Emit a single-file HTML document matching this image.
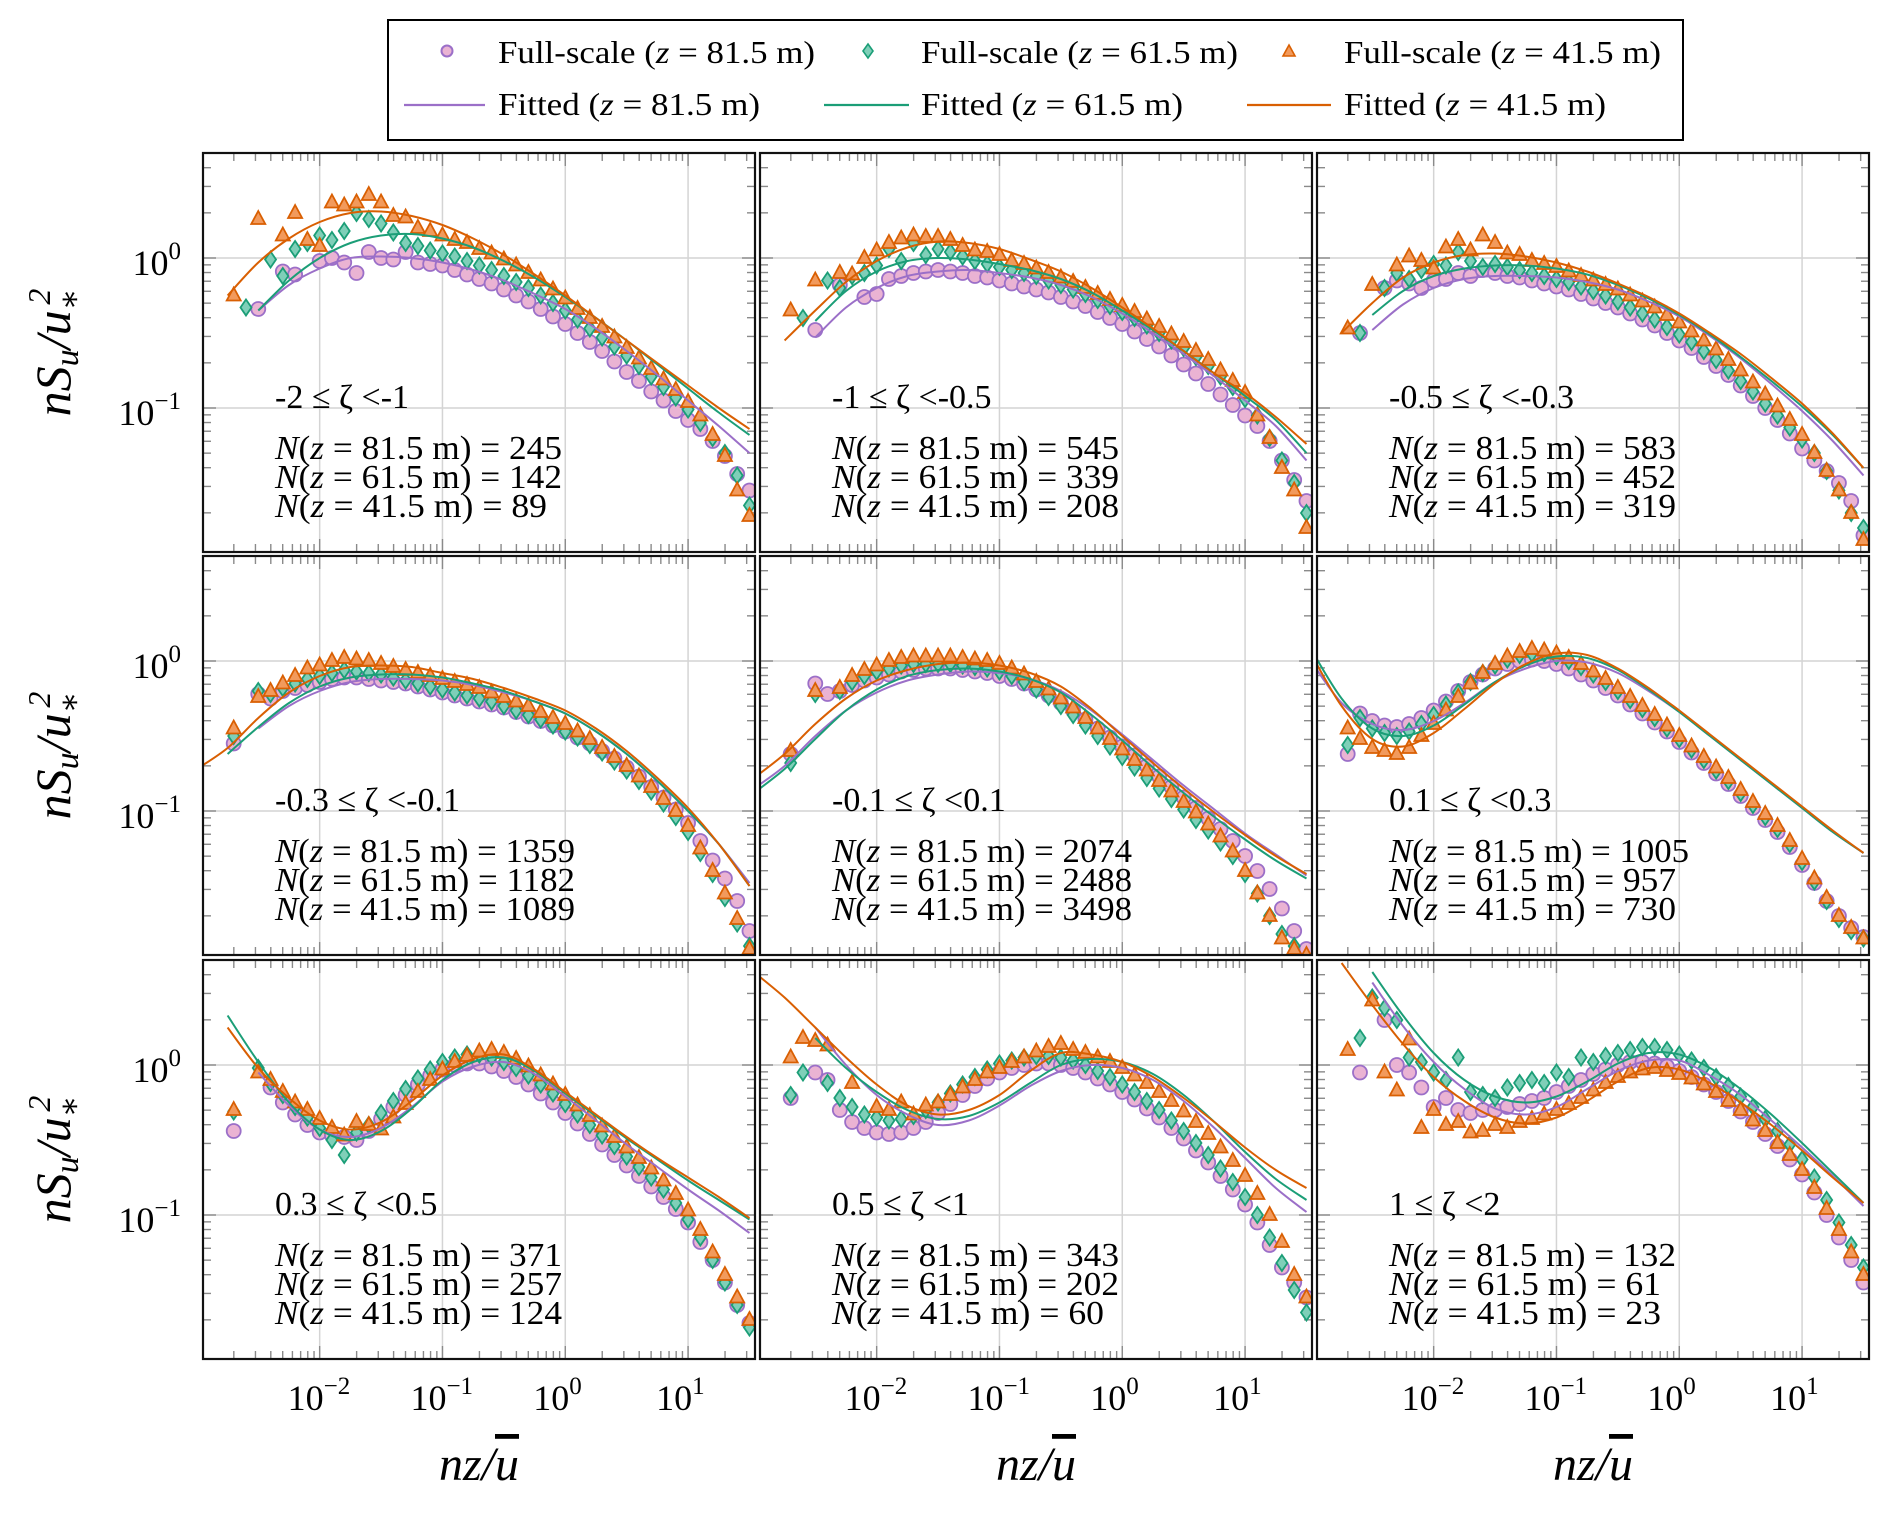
<!DOCTYPE html>
<html><head><meta charset="utf-8"><style>
html,body{margin:0;padding:0;background:#fff;}
svg{display:block;}
text{font-family:"Liberation Serif","DejaVu Serif",serif;fill:#000;}
</style></head><body>
<svg id="chart" width="1892" height="1513" viewBox="0 0 1892 1513" xmlns="http://www.w3.org/2000/svg">
<g id="legend">
<rect x="388" y="20" width="1295" height="120" fill="#fff" stroke="#000" stroke-width="2"/>
<circle cx="447" cy="51" r="5.5" fill="#eab3d3" stroke="#9b6fc8" stroke-width="2"/>
<text x="498" y="63" font-size="32" textLength="317" lengthAdjust="spacingAndGlyphs">Full-scale (<tspan font-style="italic">z</tspan> = 81.5 m)</text>
<path d="M868,44 L873,51 L868,58 L863,51 Z" fill="#7fcfb8" stroke="#1b9e77" stroke-width="1.6"/>
<text x="921" y="63" font-size="32" textLength="317" lengthAdjust="spacingAndGlyphs">Full-scale (<tspan font-style="italic">z</tspan> = 61.5 m)</text>
<path d="M1289,45 L1295,56 L1283,56 Z" fill="#f29a5c" stroke="#d95f02" stroke-width="1.6"/>
<text x="1344" y="63" font-size="32" textLength="317" lengthAdjust="spacingAndGlyphs">Full-scale (<tspan font-style="italic">z</tspan> = 41.5 m)</text>
<line x1="404" y1="105" x2="485" y2="105" stroke="#9b6fc8" stroke-width="2.2"/>
<text x="498" y="115" font-size="32" textLength="262" lengthAdjust="spacingAndGlyphs">Fitted (<tspan font-style="italic">z</tspan> = 81.5 m)</text>
<line x1="824" y1="105" x2="909" y2="105" stroke="#1b9e77" stroke-width="2.2"/>
<text x="921" y="115" font-size="32" textLength="262" lengthAdjust="spacingAndGlyphs">Fitted (<tspan font-style="italic">z</tspan> = 61.5 m)</text>
<line x1="1247" y1="105" x2="1331" y2="105" stroke="#d95f02" stroke-width="2.2"/>
<text x="1344" y="115" font-size="32" textLength="262" lengthAdjust="spacingAndGlyphs">Fitted (<tspan font-style="italic">z</tspan> = 41.5 m)</text>
</g>
<g id="panels"></g>
</svg>
<script>
// x categories (log10 of nz/u)
const fitX = [-3.0,-2.75,-2.5,-2.25,-2,-1.75,-1.5,-1.25,-1,-0.75,-0.5,-0.25,0,0.25,0.5,0.75,1,1.25,1.5];
const markX = [-2.7,-2.6,-2.5,-2.4,-2.3,-2.2,-2.1,-2.0,-1.9,-1.8,-1.7,-1.6,-1.5,-1.4,-1.3,-1.2,-1.1,-1.0,-0.9,-0.8,-0.7,-0.6,-0.5,-0.4,-0.3,-0.2,-0.1,0,0.1,0.2,0.3,0.4,0.5,0.6,0.7,0.8,0.9,1.0,1.1,1.2,1.3,1.4,1.5];
const xTickLabels = ["−2","−1","0","1"];
const xTickValues = [-2,-1,0,1];
const yTickLabels = ["0","−1"];
const yTickValues = [0,-1];
const zetaLabels = ["-2 ≤ ζ <-1","-1 ≤ ζ <-0.5","-0.5 ≤ ζ <-0.3","-0.3 ≤ ζ <-0.1","-0.1 ≤ ζ <0.1","0.1 ≤ ζ <0.3","0.3 ≤ ζ <0.5","0.5 ≤ ζ <1","1 ≤ ζ <2"];
const count81 = [245,545,583,1359,2074,1005,371,343,132];
const count61 = [142,339,452,1182,2488,957,257,202,61];
const count41 = [89,208,319,1089,3498,730,124,60,23];

// Panel 1
const fit41_p1 = [null,-0.25,-0.03,0.13,0.24,0.30,0.31,0.28,0.22,0.13,0.02,-0.11,-0.25,-0.40,-0.55,-0.70,-0.85,-1.00,-1.14];
const fit61_p1 = [null,null,-0.35,-0.15,0.00,0.10,0.15,0.16,0.13,0.07,-0.02,-0.13,-0.26,-0.40,-0.55,-0.71,-0.87,-1.03,-1.18];
const fit81_p1 = [null,null,-0.35,-0.18,-0.07,0.00,0.01,0.00,-0.03,-0.08,-0.15,-0.24,-0.34,-0.47,-0.62,-0.78,-0.95,-1.12,-1.30];
const pts41_p1 = [-0.25,null,0.26,null,0.15,0.30,0.12,0.08,0.37,0.35, 0.37,0.42,0.37,0.28,0.27,0.20,0.18,0.15,0.12,0.10, 0.06,0.03,-0.01,-0.05,-0.10,-0.15,-0.21,-0.27,-0.34,-0.40, -0.46,-0.53,-0.60,-0.67,-0.74,-0.81,-0.88,-0.96,-1.05,-1.18, -1.32,-1.55,-1.72];
const pts61_p1 = [null,-0.33,null,-0.01,-0.12,0.06,0.10,0.15,0.12,0.18, 0.30,0.26,0.23,0.17,0.10,0.08,0.05,0.03,0.01,-0.02, -0.05,-0.08,-0.12,-0.16,-0.20,-0.25,-0.30,-0.35,-0.41,-0.47, -0.53,-0.59,-0.65,-0.72,-0.79,-0.86,-0.93,-1.01,-1.10,-1.20, -1.30,-1.45,-1.65];
const pts81_p1 = [null,null,-0.34,null,-0.09,-0.11,null,-0.02,0.00,-0.03, -0.10,0.04,0.00,-0.01,0.04,-0.03,-0.04,-0.05,-0.08,-0.11, -0.14,-0.17,-0.21,-0.25,-0.29,-0.34,-0.39,-0.44,-0.50,-0.56, -0.62,-0.69,-0.76,-0.82,-0.89,-0.95,-1.02,-1.08,-1.14,-1.22, -1.32,-1.44,-1.55];
// Panel 2
const fit41_p2 = [null,-0.55,-0.35,-0.16,-0.02,0.07,0.11,0.10,0.06,-0.01,-0.09,-0.20,-0.33,-0.47,-0.62,-0.77,-0.90,-1.06,-1.24];
const fit61_p2 = [null,null,-0.42,-0.22,-0.09,-0.02,0.00,-0.01,-0.04,-0.08,-0.14,-0.23,-0.35,-0.48,-0.62,-0.77,-0.92,-1.08,-1.30];
const fit81_p2 = [null,null,-0.53,-0.33,-0.20,-0.12,-0.09,-0.08,-0.10,-0.13,-0.18,-0.26,-0.37,-0.50,-0.64,-0.79,-0.95,-1.12,-1.35];
const pts41_p2 = [-0.35,null,-0.15,null,-0.10,-0.11,0.00,0.05,0.10,0.13, 0.15,0.14,0.14,0.12,0.08,0.05,0.04,0.02,-0.02,-0.04, -0.07,-0.10,-0.13,-0.16,-0.20,-0.24,-0.28,-0.32,-0.36,-0.41, -0.46,-0.51,-0.56,-0.62,-0.68,-0.75,-0.82,-0.90,-1.05,-1.20, -1.40,-1.55,-1.80];
const pts61_p2 = [null,-0.40,null,-0.15,-0.20,-0.12,-0.10,-0.05,0.06,-0.02, 0.10,0.02,0.06,0.04,0.01,-0.02,-0.04,-0.06,-0.08,-0.10, -0.12,-0.15,-0.18,-0.21,-0.24,-0.28,-0.32,-0.36,-0.40,-0.45, -0.50,-0.55,-0.60,-0.66,-0.72,-0.79,-0.86,-0.94,-1.05,-1.20, -1.35,-1.50,-1.70];
const pts81_p2 = [null,null,-0.48,null,-0.18,null,-0.26,-0.24,-0.14,-0.12, -0.10,-0.09,-0.08,-0.09,-0.10,-0.12,-0.13,-0.15,-0.17,-0.19, -0.21,-0.23,-0.26,-0.29,-0.32,-0.36,-0.40,-0.44,-0.49,-0.54, -0.59,-0.65,-0.71,-0.77,-0.84,-0.91,-0.98,-1.05,-1.12,-1.22, -1.35,-1.48,-1.62];
// Panel 3
const fit41_p3 = [null,-0.50,-0.30,-0.13,-0.03,0.02,0.03,0.01,-0.03,-0.09,-0.17,-0.26,-0.37,-0.50,-0.64,-0.80,-0.97,-1.17,-1.40];
const fit61_p3 = [null,null,-0.38,-0.22,-0.12,-0.07,-0.05,-0.05,-0.07,-0.11,-0.18,-0.27,-0.38,-0.51,-0.66,-0.82,-0.99,-1.18,-1.40];
const fit81_p3 = [null,null,-0.48,-0.31,-0.20,-0.14,-0.12,-0.12,-0.13,-0.16,-0.21,-0.29,-0.39,-0.52,-0.67,-0.84,-1.02,-1.22,-1.45];
const pts41_p3 = [-0.47,null,-0.18,null,-0.05,0.01,-0.02,-0.07,0.07,0.12, 0.05,0.15,0.10,0.03,0.02,-0.02,-0.04,-0.06,-0.09,-0.12, -0.15,-0.18,-0.21,-0.25,-0.29,-0.33,-0.38,-0.43,-0.49,-0.55, -0.61,-0.68,-0.75,-0.83,-0.91,-0.99,-1.08,-1.18,-1.30,-1.42, -1.55,-1.70,-1.88];
const pts61_p3 = [null,-0.50,null,-0.20,-0.10,-0.14,-0.08,-0.04,-0.05,0.04, -0.02,-0.06,-0.04,-0.06,-0.08,-0.10,-0.12,-0.14,-0.16,-0.19, -0.22,-0.25,-0.29,-0.33,-0.37,-0.41,-0.46,-0.51,-0.56,-0.62, -0.68,-0.75,-0.82,-0.89,-0.97,-1.05,-1.13,-1.21,-1.30,-1.42, -1.55,-1.70,-1.80];
const pts81_p3 = [null,-0.50,null,-0.20,-0.15,-0.17,-0.20,-0.15,-0.14,-0.10, -0.12,-0.08,-0.10,-0.12,-0.13,-0.15,-0.17,-0.19,-0.21,-0.24, -0.27,-0.30,-0.33,-0.37,-0.41,-0.45,-0.50,-0.55,-0.60,-0.66, -0.72,-0.78,-0.85,-0.92,-1.00,-1.08,-1.17,-1.27,-1.35,-1.42, -1.50,-1.62,-1.85];
// Panel 4
const fit41_p4 = [-0.72,-0.58,-0.38,-0.21,-0.10,-0.04,-0.03,-0.04,-0.08,-0.12,-0.18,-0.25,-0.33,-0.45,-0.60,-0.78,-0.98,-1.22,-1.50];
const fit61_p4 = [null,-0.62,-0.44,-0.28,-0.17,-0.11,-0.09,-0.09,-0.11,-0.15,-0.20,-0.27,-0.35,-0.47,-0.62,-0.80,-1.00,-1.22,-1.50];
const fit81_p4 = [null,null,-0.45,-0.30,-0.20,-0.14,-0.12,-0.12,-0.13,-0.16,-0.21,-0.27,-0.35,-0.47,-0.62,-0.80,-1.00,-1.22,-1.48];
const pts41_p4 = [-0.45,null,-0.24,-0.20,-0.15,-0.10,-0.05,-0.03,0.00,0.02, 0.01,0.00,-0.02,-0.04,-0.06,-0.08,-0.10,-0.12,-0.14,-0.16, -0.18,-0.21,-0.24,-0.27,-0.30,-0.34,-0.38,-0.42,-0.47,-0.52, -0.58,-0.64,-0.70,-0.77,-0.84,-0.92,-1.00,-1.10,-1.25,-1.40, -1.55,-1.72,-1.92];
const pts61_p4 = [-0.50,null,-0.20,-0.22,-0.18,-0.15,-0.12,-0.10,-0.08,-0.06, -0.07,-0.08,-0.09,-0.11,-0.13,-0.15,-0.17,-0.19,-0.21,-0.23, -0.25,-0.27,-0.30,-0.33,-0.36,-0.39,-0.43,-0.47,-0.51,-0.56, -0.61,-0.67,-0.73,-0.80,-0.87,-0.95,-1.04,-1.14,-1.28,-1.42, -1.58,-1.75,-1.90];
const pts81_p4 = [-0.55,null,-0.22,-0.25,-0.20,-0.18,-0.16,-0.14,-0.12,-0.11, -0.11,-0.12,-0.13,-0.14,-0.15,-0.17,-0.19,-0.21,-0.23,-0.25, -0.27,-0.29,-0.31,-0.34,-0.37,-0.40,-0.43,-0.47,-0.51,-0.55, -0.60,-0.65,-0.71,-0.77,-0.84,-0.91,-0.99,-1.08,-1.20,-1.33, -1.45,-1.60,-1.80];
// Panel 5
const fit41_p5 = [-0.78,-0.62,-0.42,-0.25,-0.13,-0.06,-0.02,-0.01,-0.03,-0.08,-0.17,-0.32,-0.50,-0.68,-0.85,-1.01,-1.16,-1.30,-1.42];
const fit61_p5 = [-0.88,-0.72,-0.52,-0.33,-0.19,-0.10,-0.06,-0.05,-0.07,-0.12,-0.21,-0.36,-0.53,-0.71,-0.88,-1.04,-1.19,-1.33,-1.45];
const fit81_p5 = [-0.85,-0.70,-0.50,-0.33,-0.21,-0.13,-0.09,-0.07,-0.08,-0.12,-0.20,-0.33,-0.49,-0.66,-0.83,-0.99,-1.15,-1.29,-1.43];
const pts41_p5 = [-0.60,null,-0.20,null,-0.18,-0.10,-0.06,-0.03,0.00,0.02, 0.03,0.03,0.03,0.03,0.02,0.01,0.00,-0.02,-0.05,-0.09, -0.14,-0.19,-0.25,-0.31,-0.38,-0.45,-0.52,-0.59,-0.66,-0.73, -0.80,-0.87,-0.94,-1.01,-1.09,-1.17,-1.27,-1.40,-1.55,-1.70, -1.85,-1.92,-1.96];
const pts61_p5 = [-0.68,null,-0.22,null,-0.20,-0.14,-0.10,-0.07,-0.05,-0.03, -0.02,-0.02,-0.02,-0.02,-0.03,-0.04,-0.05,-0.07,-0.10,-0.14, -0.19,-0.24,-0.30,-0.36,-0.43,-0.50,-0.57,-0.64,-0.71,-0.78, -0.85,-0.92,-0.99,-1.06,-1.13,-1.21,-1.30,-1.42,-1.55,-1.70, -1.82,-1.90,-1.98];
const pts81_p5 = [-0.62,null,-0.15,-0.22,-0.20,-0.16,-0.13,-0.11,-0.09,-0.07, -0.06,-0.05,-0.05,-0.05,-0.06,-0.07,-0.08,-0.10,-0.12,-0.15, -0.19,-0.23,-0.28,-0.33,-0.39,-0.45,-0.51,-0.57,-0.63,-0.70, -0.77,-0.84,-0.91,-0.98,-1.05,-1.12,-1.20,-1.30,-1.40,-1.52, -1.65,-1.80,-1.92];
// Panel 6
const fit41_p6 = [0.05,-0.30,-0.52,-0.57,-0.48,-0.32,-0.15,-0.02,0.05,0.04,-0.05,-0.18,-0.33,-0.49,-0.65,-0.81,-0.97,-1.13,-1.28];
const fit61_p6 = [0.08,-0.25,-0.45,-0.50,-0.43,-0.29,-0.14,-0.03,0.03,0.02,-0.06,-0.19,-0.34,-0.50,-0.66,-0.82,-0.98,-1.14,-1.28];
const fit81_p6 = [0.00,-0.28,-0.42,-0.46,-0.40,-0.28,-0.14,-0.05,0.00,-0.01,-0.08,-0.20,-0.34,-0.50,-0.66,-0.82,-0.98,-1.14,-1.28];
const pts41_p6 = [-0.45,-0.52,-0.58,-0.60,-0.62,-0.58,-0.50,-0.42,-0.33,-0.24, -0.15,-0.08,-0.02,0.03,0.06,0.08,0.07,0.05,0.02,-0.02, -0.07,-0.12,-0.18,-0.24,-0.30,-0.36,-0.43,-0.50,-0.57,-0.64, -0.71,-0.78,-0.86,-0.94,-1.02,-1.10,-1.20,-1.32,-1.45,-1.58, -1.70,-1.78,-1.85];
const pts61_p6 = [-0.56,-0.38,-0.45,-0.48,-0.50,-0.47,-0.42,-0.36,-0.29,-0.21, -0.14,-0.08,-0.03,0.01,0.04,0.05,0.05,0.03,0.00,-0.04, -0.09,-0.14,-0.20,-0.26,-0.32,-0.38,-0.45,-0.52,-0.59,-0.66, -0.73,-0.80,-0.88,-0.96,-1.04,-1.12,-1.22,-1.34,-1.47,-1.60, -1.72,-1.80,-1.85];
const pts81_p6 = [-0.62,-0.35,-0.40,-0.43,-0.44,-0.42,-0.38,-0.33,-0.27,-0.20, -0.14,-0.09,-0.05,-0.02,0.00,0.01,0.00,-0.02,-0.05,-0.09, -0.13,-0.18,-0.23,-0.29,-0.35,-0.41,-0.47,-0.54,-0.61,-0.68, -0.75,-0.82,-0.90,-0.98,-1.06,-1.14,-1.24,-1.36,-1.48,-1.60, -1.70,-1.78,-1.84];
// Panel 7
const fit41_p7 = [null,0.25,-0.02,-0.22,-0.37,-0.43,-0.38,-0.24,-0.07,0.04,0.07,-0.03,-0.18,-0.33,-0.48,-0.62,-0.75,-0.88,-1.02];
const fit61_p7 = [null,0.33,0.02,-0.25,-0.43,-0.50,-0.44,-0.29,-0.10,0.02,0.05,-0.04,-0.19,-0.34,-0.49,-0.63,-0.77,-0.90,-1.03];
const fit81_p7 = [null,null,-0.05,-0.27,-0.43,-0.48,-0.42,-0.28,-0.11,-0.01,0.02,-0.06,-0.21,-0.37,-0.53,-0.68,-0.83,-0.97,-1.12];
const pts41_p7 = [-0.30,null,-0.05,-0.10,-0.18,-0.25,-0.30,-0.36,-0.42,-0.47, -0.38,-0.40,-0.43,-0.35,-0.26,-0.18,-0.10,-0.03,0.02,0.06, 0.09,0.10,0.08,0.04,-0.01,-0.07,-0.13,-0.20,-0.27,-0.34, -0.41,-0.48,-0.55,-0.62,-0.69,-0.77,-0.86,-0.97,-1.10,-1.25, -1.40,-1.55,-1.70];
const pts61_p7 = [-0.31,null,-0.02,-0.12,-0.20,-0.28,-0.35,-0.42,-0.50,-0.60, -0.45,-0.40,-0.32,-0.24,-0.16,-0.09,-0.03,0.02,0.05,0.07, 0.07,0.05,0.02,-0.02,-0.07,-0.13,-0.19,-0.26,-0.33,-0.40, -0.47,-0.54,-0.61,-0.68,-0.75,-0.83,-0.92,-1.03,-1.15,-1.30, -1.45,-1.60,-1.75];
const pts81_p7 = [-0.44,null,null,-0.15,-0.25,-0.33,-0.40,-0.45,-0.47,-0.48, -0.50,-0.44,-0.36,-0.28,-0.20,-0.13,-0.07,-0.03,0.00,0.01, 0.01,-0.01,-0.04,-0.08,-0.13,-0.19,-0.25,-0.32,-0.39,-0.46, -0.53,-0.60,-0.67,-0.74,-0.81,-0.88,-0.96,-1.05,-1.18,-1.30, -1.45,-1.60,-1.72];
// Panel 8
const fit41_p8 = [0.62,0.45,0.25,0.05,-0.13,-0.27,-0.33,-0.30,-0.20,-0.04,0.08,0.07,0.02,-0.08,-0.22,-0.38,-0.55,-0.70,-0.82];
const fit61_p8 = [null,null,0.18,-0.02,-0.18,-0.30,-0.36,-0.34,-0.25,-0.12,0.00,0.04,0.02,-0.06,-0.20,-0.38,-0.58,-0.76,-0.90];
const fit81_p8 = [null,null,0.25,0.00,-0.20,-0.33,-0.40,-0.37,-0.27,-0.14,-0.04,0.00,-0.02,-0.10,-0.24,-0.42,-0.62,-0.82,-0.98];
const pts41_p8 = [0.05,0.18,0.16,0.13,null,-0.12,null,-0.28,-0.30,-0.25, -0.33,-0.27,-0.25,-0.20,-0.15,-0.10,-0.05,-0.02,0.02,0.05, 0.09,0.12,0.14,0.10,0.08,0.05,0.02,-0.02,-0.07,-0.12, -0.18,-0.24,-0.31,-0.38,-0.46,-0.55,-0.64,-0.74,-0.86,-1.00, -1.18,-1.40,-1.55];
const pts61_p8 = [-0.20,-0.05,null,-0.12,-0.22,-0.28,-0.33,-0.35,-0.37,-0.36, -0.34,-0.30,-0.25,-0.19,-0.13,-0.08,-0.03,0.01,0.03,0.05, 0.06,0.06,0.05,0.03,0.00,-0.04,-0.08,-0.13,-0.18,-0.24, -0.30,-0.37,-0.44,-0.52,-0.60,-0.69,-0.78,-0.88,-1.00,-1.15, -1.32,-1.50,-1.65];
const pts81_p8 = [-0.22,null,-0.05,-0.10,-0.30,-0.38,-0.42,-0.45,-0.46,-0.45, -0.42,-0.38,-0.32,-0.26,-0.20,-0.14,-0.09,-0.05,-0.02,0.00, 0.01,0.01,0.00,-0.02,-0.05,-0.09,-0.13,-0.18,-0.23,-0.29, -0.35,-0.42,-0.49,-0.57,-0.65,-0.74,-0.83,-0.93,-1.05,-1.20, -1.35,-1.45,-1.55];
// Panel 9
const fit41_p9 = [null,0.68,0.40,0.14,-0.08,-0.24,-0.35,-0.39,-0.35,-0.24,-0.11,-0.02,-0.03,-0.12,-0.25,-0.40,-0.57,-0.75,-0.92];
const fit61_p9 = [null,null,0.62,0.33,0.08,-0.10,-0.21,-0.25,-0.21,-0.11,0.01,0.08,0.07,-0.02,-0.16,-0.33,-0.52,-0.72,-0.92];
const fit81_p9 = [null,null,0.55,0.26,0.02,-0.16,-0.29,-0.33,-0.28,-0.16,-0.04,0.03,0.03,-0.07,-0.20,-0.37,-0.55,-0.74,-0.94];
const pts41_p9 = [0.10,null,0.43,-0.05,-0.17,0.17,-0.42,-0.30,-0.40,-0.38, -0.45,-0.44,-0.40,-0.42,-0.38,-0.36,-0.33,-0.30,-0.26,-0.22, -0.17,-0.12,-0.08,-0.05,-0.03,-0.02,-0.04,-0.06,-0.09,-0.13, -0.18,-0.24,-0.30,-0.37,-0.44,-0.52,-0.60,-0.70,-0.82,-0.96, -1.10,-1.25,-1.40];
const pts61_p9 = [null,0.18,0.45,0.38,0.30,0.05,0.02,-0.05,-0.10,0.05, -0.18,-0.20,-0.22,-0.15,-0.12,-0.10,-0.12,-0.05,-0.08,0.05, 0.02,0.06,0.08,0.10,0.12,0.12,0.10,0.07,0.03,-0.02, -0.08,-0.14,-0.21,-0.28,-0.36,-0.44,-0.53,-0.63,-0.75,-0.90, -1.05,-1.20,-1.35];
const pts81_p9 = [null,-0.05,null,0.30,0.00,-0.05,-0.15,-0.28,-0.22,-0.30, -0.32,-0.30,-0.30,-0.28,-0.26,-0.24,-0.22,-0.18,-0.14,-0.10, -0.06,-0.03,0.00,0.02,0.02,0.01,-0.01,-0.04,-0.08,-0.13, -0.18,-0.24,-0.31,-0.38,-0.46,-0.54,-0.63,-0.73,-0.85,-1.00, -1.15,-1.30,-1.45];

const panelFits81 = [fit81_p1,fit81_p2,fit81_p3,fit81_p4,fit81_p5,fit81_p6,fit81_p7,fit81_p8,fit81_p9];
const panelFits61 = [fit61_p1,fit61_p2,fit61_p3,fit61_p4,fit61_p5,fit61_p6,fit61_p7,fit61_p8,fit61_p9];
const panelFits41 = [fit41_p1,fit41_p2,fit41_p3,fit41_p4,fit41_p5,fit41_p6,fit41_p7,fit41_p8,fit41_p9];
const panelPts81 = [pts81_p1,pts81_p2,pts81_p3,pts81_p4,pts81_p5,pts81_p6,pts81_p7,pts81_p8,pts81_p9];
const panelPts61 = [pts61_p1,pts61_p2,pts61_p3,pts61_p4,pts61_p5,pts61_p6,pts61_p7,pts61_p8,pts61_p9];
const panelPts41 = [pts41_p1,pts41_p2,pts41_p3,pts41_p4,pts41_p5,pts41_p6,pts41_p7,pts41_p8,pts41_p9];

const NS = "http://www.w3.org/2000/svg";
const COLX = [203,760,1317], ROWY = [153,556,960], PW = 552, PH = 399;
const XMIN = -2.95, XMAX = 1.545, YMIN = -1.96, YMAX = 0.70;
const C81 = {stroke:"#9b6fc8", fill:"#eab3d3"}, C61 = {stroke:"#1b9e77", fill:"#7fcfb8"}, C41 = {stroke:"#d95f02", fill:"#f29a5c"};

function mk(tag, attrs, parent){
  const e = document.createElementNS(NS, tag);
  for (const k in attrs) e.setAttribute(k, attrs[k]);
  parent.appendChild(e);
  return e;
}
const root = document.getElementById("panels");

function catmull(pts){
  if (pts.length < 2) return "";
  let d = "M" + pts[0][0].toFixed(1) + "," + pts[0][1].toFixed(1);
  for (let i = 0; i < pts.length - 1; i++){
    const p0 = pts[i-1] || pts[i], p1 = pts[i], p2 = pts[i+1], p3 = pts[i+2] || pts[i+1];
    const c1x = p1[0] + (p2[0]-p0[0])/6, c1y = p1[1] + (p2[1]-p0[1])/6;
    const c2x = p2[0] - (p3[0]-p1[0])/6, c2y = p2[1] - (p3[1]-p1[1])/6;
    d += " C" + c1x.toFixed(1)+","+c1y.toFixed(1)+" "+c2x.toFixed(1)+","+c2y.toFixed(1)+" "+p2[0].toFixed(1)+","+p2[1].toFixed(1);
  }
  return d;
}

for (let p = 0; p < 9; p++){
  const col = p % 3, row = Math.floor(p / 3);
  const x0 = COLX[col], y0 = ROWY[row];
  const sx = v => x0 + (v - XMIN) / (XMAX - XMIN) * PW;
  const sy = v => y0 + (YMAX - v) / (YMAX - YMIN) * PH;
  const g = mk("g", {}, root);
  
  
  const cp = mk("clipPath", {id:"clip"+p}, g);
  mk("rect", {x:x0, y:y0, width:PW, height:PH}, cp);
  const grid = mk("g", {stroke:"#d4d4d4", "stroke-width":1.5}, g);
  
  
  xTickValues.forEach(v => { mk("line", {x1:sx(v), x2:sx(v), y1:y0, y2:y0+PH}, grid); });
  yTickValues.forEach(v => { mk("line", {x1:x0, x2:x0+PW, y1:sy(v), y2:sy(v)}, grid); });
  const tk = mk("g", {stroke:"#8a8a8a", "stroke-width":1.4}, g);
  
  
  for (let d = -3; d <= 1; d++) for (let k = 1; k <= 9; k++){
    const v = d + Math.log10(k);
    if (v > XMIN && v < XMAX){
      const L = k === 1 ? 13 : 8;
      mk("line", {x1:sx(v), x2:sx(v), y1:y0, y2:y0+L}, tk);
      mk("line", {x1:sx(v), x2:sx(v), y1:y0+PH, y2:y0+PH-L}, tk);
    }
    if (v > YMIN && v < YMAX){
      const L = k === 1 ? 13 : 8;
      mk("line", {x1:x0, x2:x0+L, y1:sy(v), y2:sy(v)}, tk);
      mk("line", {x1:x0+PW, x2:x0+PW-L, y1:sy(v), y2:sy(v)}, tk);
    }
  }
  const t1 = mk("text", {x:x0+72, y:y0+255, "font-size":34}, g);
  
  
  t1.textContent = zetaLabels[p];
  const heights = ["81.5","61.5","41.5"], counts = [count81[p], count61[p], count41[p]];
  for (let i = 0; i < 3; i++){
    const n = String(counts[i]).length;
    const t = mk("text", {x:x0+72, y:y0+306+i*29, "font-size":34, textLength:(n===4?300:(n===3?287:272)), lengthAdjust:"spacingAndGlyphs"}, g);
    
    
    t.innerHTML = '<tspan font-style="italic">N</tspan>(<tspan font-style="italic">z</tspan> = ' + heights[i] + ' m) = ' + counts[i];
  }
  const plot = mk("g", {"clip-path":"url(#clip"+p+")"}, g);
  const series = [[panelPts81[p], C81, "circle", "marker-81"], [panelPts61[p], C61, "diamond", "marker-61"], [panelPts41[p], C41, "triangle", "marker-41"]];
  series.forEach(([vals, c, shape, nm]) => {
    vals.forEach((v, i) => {
      if (v === null || v === undefined || i >= markX.length) return;
      const cx = sx(markX[i]), cy = sy(v);
      let el;
      if (shape === "circle") el = mk("circle", {cx:cx, cy:cy, r:7, fill:c.fill, stroke:c.stroke, "stroke-width":1.8}, plot);
      else if (shape === "diamond") el = mk("path", {d:`M${cx},${cy-8} L${cx+5.5},${cy} L${cx},${cy+8} L${cx-5.5},${cy} Z`, fill:c.fill, stroke:c.stroke, "stroke-width":1.8}, plot);
      else el = mk("path", {d:`M${cx},${cy-8} L${cx+7},${cy+5} L${cx-7},${cy+5} Z`, fill:c.fill, stroke:c.stroke, "stroke-width":1.8}, plot);
      
      
    });
  });
  const fits = [[panelFits81[p], C81, "fit-line-81"], [panelFits61[p], C61, "fit-line-61"], [panelFits41[p], C41, "fit-line-41"]];
  fits.forEach(([vals, c, nm]) => {
    const pts = [];
    vals.forEach((v, i) => { if (v !== null && i < fitX.length) pts.push([sx(fitX[i]), sy(v)]); });
    const ln = mk("path", {d:catmull(pts), fill:"none", stroke:c.stroke, "stroke-width":2}, plot);
    
    
  });
  const fr = mk("rect", {x:x0, y:y0, width:PW, height:PH, fill:"none", stroke:"#111", "stroke-width":2.2}, g);
  
  

  if (col === 0){
    yTickValues.forEach((v, i) => {
      const t = mk("text", {x:x0-22, y:sy(v)+17, "font-size":36, "text-anchor":"end"}, g);
      
      
      t.innerHTML = '10<tspan dy="-16" font-size="25">' + yTickLabels[i] + '</tspan>';
    });
    const yt = mk("text", {x:0, y:0, "font-size":50, "font-style":"italic", "text-anchor":"middle", transform:`translate(70,${y0+PH/2}) rotate(-90)`}, g);
    
    
    yt.innerHTML = 'nS<tspan font-size="34" dy="8">u</tspan><tspan dy="-8">/u</tspan><tspan font-size="32" dy="10">∗</tspan><tspan font-size="32" dx="-16" dy="-30">2</tspan>';
  }
  if (row === 2){
    xTickValues.forEach((v, i) => {
      const t = mk("text", {x:sx(v)-32, y:1410, "font-size":36, "text-anchor":"start"}, g);
      
      
      t.innerHTML = '10<tspan dy="-16" font-size="25">' + xTickLabels[i] + '</tspan>';
    });
    const xt = mk("text", {x:x0+PW/2, y:1480, "font-size":48, "font-style":"italic", "text-anchor":"middle"}, g);
    
    
    xt.innerHTML = 'nz/<tspan text-decoration="overline">u</tspan>';
  }
}
</script>
</body></html>
